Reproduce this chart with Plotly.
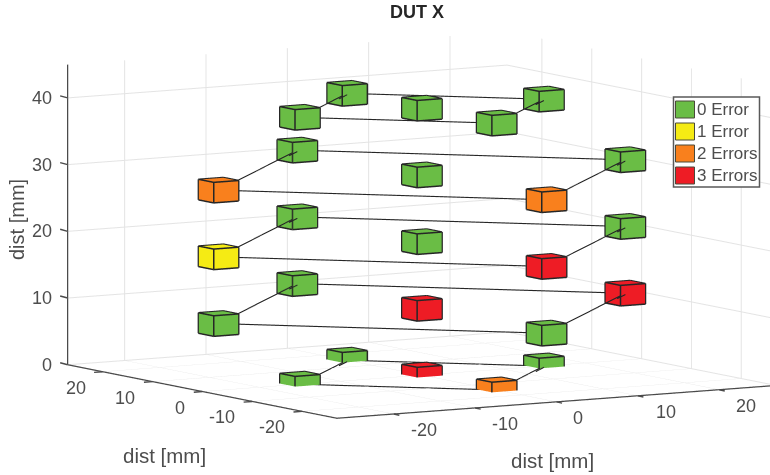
import numpy as np
import plotly.graph_objects as go

# ---- data ----
layer_z = [0, 10, 20, 30, 40]
layer_radius = [15, 25, 25, 25, 15]
errors_west = [0, 0, 1, 2, 0]    # (-r, 0)
errors_north = [0, 0, 0, 0, 0]   # (0, +r)
errors_south = [2, 0, 3, 2, 0]   # (0, -r)
errors_east = [0, 3, 0, 0, 0]    # (+r, 0)
errors_center = [3, 3, 0, 0, 0]  # (0, 0)
legend_labels = ["0 Error", "1 Error", "2 Errors", "3 Errors"]
legend_colors = ["#6ABD45", "#F5EB14", "#F9801D", "#EE1C25"]
x_ticks = [-20, -10, 0, 10, 20]
y_ticks = [-20, -10, 0, 10, 20]
z_ticks = [0, 10, 20, 30, 40]
axis_label = "dist [mm]"
title_text = "DUT X"
cube_size = 3.0
LIM = 27
ZMAX = 45

INK = "#262626"
TXT = "#4d4d4d"
AXC = "#4a4a4a"
GRID = "#e4e4e4"
W, H = 770, 475
FONT = "Liberation Sans"
az, el = np.radians(-31.5), np.radians(7.0)
view = np.array([np.sin(az) * np.cos(el), -np.cos(az) * np.cos(el), np.sin(el)])
right = np.array([np.cos(az), np.sin(az), 0.0])
upv = np.array([-np.sin(el) * np.sin(az), np.sin(el) * np.cos(az), np.cos(el)])
EYE = 6.0
SCALE = 2.29 * 450 / 475
UNIT_PX = 516 / SCALE  # pixels per scene unit
SHIFT_R = 422 - W / 2  # wanted centre of the box, pixels right of canvas centre
SHIFT_U = H / 2 - 225  # pixels above canvas centre
cam_center = -(right * SHIFT_R + upv * SHIFT_U) / UNIT_PX

cubes = {i: [] for i in range(4)}
for i, (z, r) in enumerate(zip(layer_z, layer_radius)):
    cubes[errors_west[i]].append((-r, 0, z))
    cubes[errors_north[i]].append((0, r, z))
    cubes[errors_south[i]].append((0, -r, z))
    cubes[errors_east[i]].append((r, 0, z))
    cubes[errors_center[i]].append((0, 0, z))

QUADS = [(0, 1, 3, 2), (4, 5, 7, 6), (0, 1, 5, 4), (2, 3, 7, 6), (0, 2, 6, 4), (1, 3, 7, 5)]


def corners(c, h):
    zlo = max(c[2] - h, 0)
    return [(c[0] + sx * h, c[1] + sy * h, (zlo if sz < 0 else c[2] + h))
            for sx in (-1, 1) for sy in (-1, 1) for sz in (-1, 1)]


fig = go.Figure()
for k in range(4):
    vx, vy, vz, fi, fj, fk = [], [], [], [], [], []
    for c in cubes[k]:
        b = len(vx)
        for p in corners(c, cube_size / 2):
            vx.append(p[0]); vy.append(p[1]); vz.append(p[2])
        for q in QUADS:
            fi += [b + q[0], b + q[0]]
            fj += [b + q[1], b + q[2]]
            fk += [b + q[2], b + q[3]]
    if vx:
        fig.add_trace(go.Mesh3d(x=vx, y=vy, z=vz, i=fi, j=fj, k=fk, color=legend_colors[k],
                                flatshading=True, hoverinfo="skip", showlegend=False, showscale=False,
                                lighting=dict(ambient=1, diffuse=0, specular=0, roughness=1, fresnel=0)))

# cube outlines
ex, ey, ez = [], [], []
for k in range(4):
    for c in cubes[k]:
        pts = corners(c, cube_size / 2 + 0.04)
        clipped = c[2] - cube_size / 2 < 0
        for a, b in [(0, 1), (2, 3), (4, 5), (6, 7), (0, 2), (1, 3), (4, 6), (5, 7), (0, 4), (1, 5), (2, 6), (3, 7)]:
            if clipped and pts[a][2] == 0 and pts[b][2] == 0:
                continue
            ex += [pts[a][0], pts[b][0], None]
            ey += [pts[a][1], pts[b][1], None]
            ez += [pts[a][2], pts[b][2], None]
fig.add_trace(go.Scatter3d(x=ex, y=ey, z=ez, mode="lines", line=dict(color=INK, width=3),
                           hoverinfo="skip", showlegend=False))

# connecting wires
lx, ly, lz = [], [], []
for z, r in zip(layer_z, layer_radius):
    ring = [(-r, 0), (0, r), (r, 0), (0, -r), (-r, 0)]
    for p, q in zip(ring[:-1], ring[1:]):
        lx += [p[0], q[0], None]
        ly += [p[1], q[1], None]
        lz += [z, z, None]
    # wire drawn over the far cubes up to their centre
    for p, q in [((-r, 0), (0, r)), ((0, -r), (r, 0))]:
        a = np.array([p[0], p[1], z]) + view * 4
        b = np.array([q[0], q[1], z]) + view * 4
        s = a + (b - a) * (1 - 2.6 / r)
        lx += [s[0], b[0], None]
        ly += [s[1], b[1], None]
        lz += [s[2], b[2], None]
fig.add_trace(go.Scatter3d(x=lx, y=ly, z=lz, mode="lines", line=dict(color=INK, width=2.2),
                           hoverinfo="skip", showlegend=False))

# axis rulers along the open front edges of the box
fig.add_trace(go.Scatter3d(x=[-LIM, -LIM, None, -LIM, -LIM, LIM], y=[LIM, LIM, None, LIM, -LIM, -LIM],
                           z=[0, ZMAX, None, 0, 0, 0], mode="lines", line=dict(color=AXC, width=2.5),
                           hoverinfo="skip", showlegend=False))

axis_common = dict(showbackground=False, showspikes=False, gridcolor=GRID, gridwidth=2, zeroline=False,
                   showline=False, ticks="", showticklabels=False, title=dict(text=""))

tick_font = dict(size=18, color=TXT, family=FONT)
tick_mark = dict(text=" ", showarrow=True, arrowhead=0, arrowwidth=1.4, arrowcolor=AXC, standoff=0, startstandoff=0)
ann = []
for v, dx in zip(x_ticks, [30, 30, 21, 28, 27]):
    ann.append(dict(x=v, y=-LIM, z=0, text=str(v), showarrow=False, xshift=dx, yshift=-16, font=tick_font))
    ann.append(dict(x=v, y=-LIM, z=0, ax=9, ay=2, **tick_mark))
for v, dx in zip(y_ticks, [-30, -30, -22, -27, -27]):
    ann.append(dict(x=-LIM, y=v, z=0, text=str(v), showarrow=False, xshift=dx, yshift=-16, font=tick_font))
    ann.append(dict(x=-LIM, y=v, z=0, ax=-12, ay=1, **tick_mark))
for v in z_ticks:
    ann.append(dict(x=-LIM, y=LIM, z=v, text=str(v), showarrow=False, xanchor="right", xshift=-14, font=tick_font))
    ann.append(dict(x=-LIM, y=LIM, z=v, ax=-11, ay=-3, **tick_mark))


def px(x0):
    return x0 / W


def py(y0):
    return 1 - y0 / H


def label(x0, y0, text, size, anchor="center", angle=0):
    return dict(xref="paper", yref="paper", x=px(x0), y=py(y0), xanchor=anchor, yanchor="middle", text=text,
                showarrow=False, textangle=angle, font=dict(size=size, color=TXT))


# legend panel
shapes = [dict(type="rect", xref="paper", yref="paper", x0=px(673.5), x1=px(759.5), y0=py(187), y1=py(97),
               fillcolor="white", line=dict(color="#595959", width=1.5))]
paper_ann = [label(164.5, 455, axis_label, 20.5), label(552, 460, axis_label, 20.5), label(17, 220, axis_label, 20, angle=-90)]
for i, (name, col) in enumerate(zip(legend_labels, legend_colors)):
    top = 101 + 22 * i
    shapes.append(dict(type="rect", xref="paper", yref="paper", x0=px(675.5), x1=px(694.5), y0=py(top + 17), y1=py(top),
                       fillcolor=col, line=dict(color="#4a4a3a", width=1)))
    paper_ann.append(label(694.5, top + 8.5, name, 17, anchor="left"))

fig.update_layout(
    width=W, height=H, margin=dict(l=0, r=0, t=0, b=0), showlegend=False,
    paper_bgcolor="white", font=dict(family=FONT, color=TXT, size=16),
    title=dict(text="<b>%s</b>" % title_text, x=px(417), xanchor="center", y=py(12), yanchor="middle",
               font=dict(size=18, color=INK, family=FONT)),
    scene=dict(
        domain=dict(x=[0, 1], y=[0, 1]),
        xaxis=dict(range=[-LIM, LIM], tickvals=x_ticks, **axis_common),
        yaxis=dict(range=[-LIM, LIM], tickvals=y_ticks, **axis_common),
        zaxis=dict(range=[0, ZMAX], tickvals=z_ticks, **axis_common),
        aspectmode="manual", aspectratio=dict(x=SCALE, y=SCALE, z=0.587 * SCALE),
        camera=dict(projection=dict(type="orthographic"), up=dict(x=0, y=0, z=1),
                    center=dict(x=cam_center[0], y=cam_center[1], z=cam_center[2]),
                    eye=dict(x=cam_center[0] + view[0] * EYE, y=cam_center[1] + view[1] * EYE, z=cam_center[2] + view[2] * EYE)),
        annotations=ann,
    ),
    shapes=shapes,
    annotations=paper_ann,
)
fig.write_html("out.html", config=dict(displayModeBar=False), post_script="document.body.style.margin='0';")
